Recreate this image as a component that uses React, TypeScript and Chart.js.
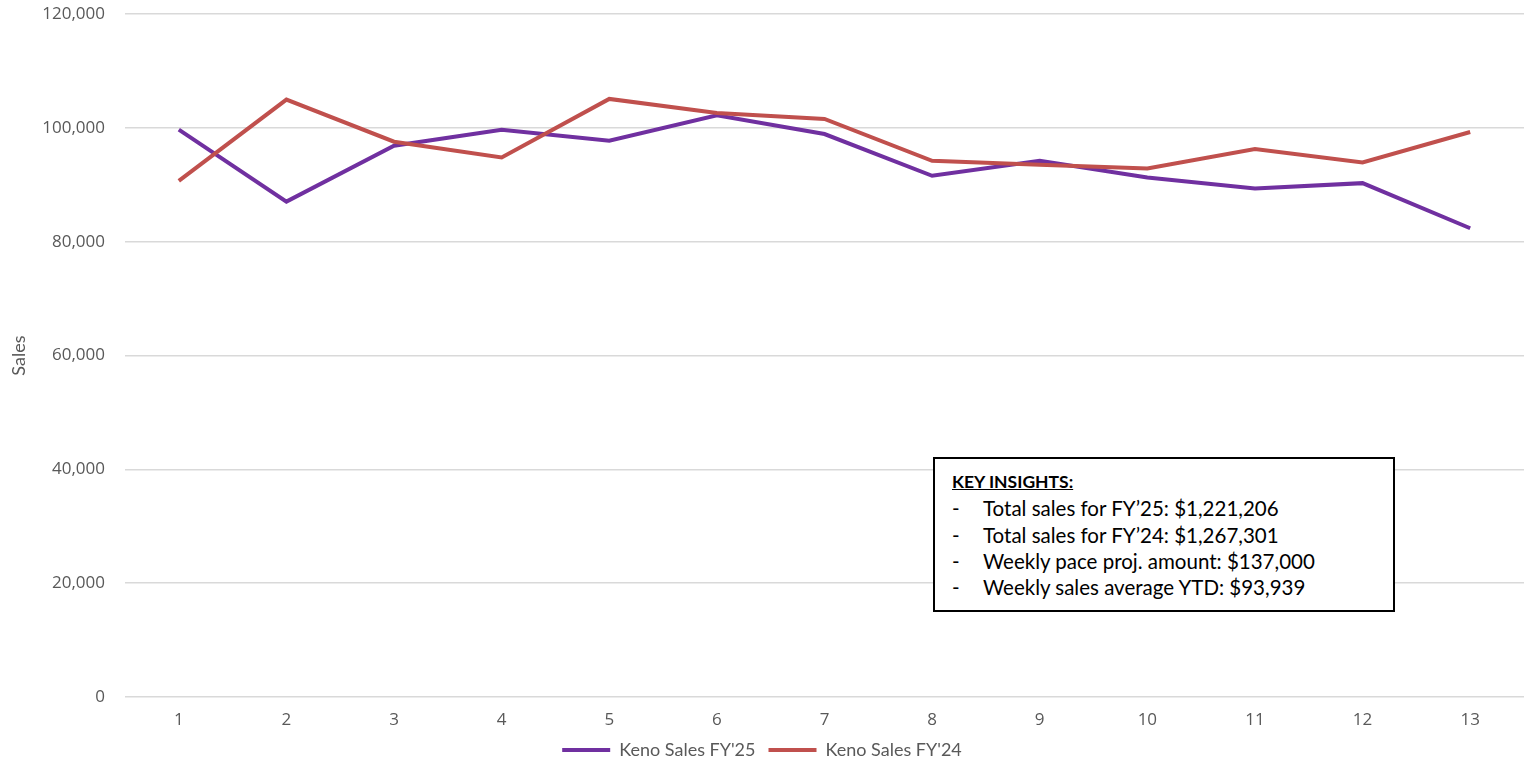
import React, { useEffect, useRef } from "react";
import { Chart, registerables } from "chart.js";

Chart.register(...registerables);

const weeks = ["1", "2", "3", "4", "5", "6", "7", "8", "9", "10", "11", "12", "13"];
const salesFY25 = [99700, 87070, 96880, 99700, 97760, 102220, 98940, 91600, 94240, 91300, 89360, 90310, 82380];
const salesFY24 = [90710, 104990, 97590, 94820, 105110, 102640, 101580, 94240, 93530, 92880, 96300, 93940, 99300];
const insightTitle = "KEY INSIGHTS:";
const insightLines = [
  "Total sales for FY\u201925: $1,221,206",
  "Total sales for FY\u201924: $1,267,301",
  "Weekly pace proj. amount: $137,000",
  "Weekly sales average YTD: $93,939",
];

export default function App() {
  const canvasRef = useRef<HTMLCanvasElement | null>(null);

  useEffect(() => {
    const canvas = canvasRef.current;
    if (!canvas) return;
    const tickFont = { family: "'Open Sans', sans-serif", size: 17 };
    const chart = new Chart(canvas, {
      type: "line",
      data: {
        labels: weeks,
        datasets: [
          {
            label: "Keno Sales FY'25",
            data: salesFY25,
            borderColor: "#7030A0",
            backgroundColor: "#7030A0",
            borderWidth: 4,
            pointRadius: 0,
            tension: 0,
            order: 1,
          },
          {
            label: "Keno Sales FY'24",
            data: salesFY24,
            borderColor: "#C0504D",
            backgroundColor: "#C0504D",
            borderWidth: 4,
            pointRadius: 0,
            tension: 0,
            order: 0,
          },
        ],
      },
      options: {
        animation: false,
        responsive: false,
        maintainAspectRatio: false,
        layout: { padding: { top: 14, right: 9, left: 0, bottom: 0 } },
        plugins: {
          tooltip: { enabled: false },
          legend: {
            position: "bottom",
            maxHeight: 35,
            labels: {
              usePointStyle: true,
              pointStyle: "line",
              pointStyleWidth: 48,
              boxHeight: 18,
              color: "#595959",
              font: { family: "Lato, sans-serif", size: 18 },
              padding: 13,
              sort: (a: any, b: any) => a.datasetIndex - b.datasetIndex,
            },
          },
        },
        scales: {
          x: {
            offset: true,
            grid: { display: false },
            border: { display: false },
            ticks: { color: "#595959", font: tickFont, padding: 5 },
            afterFit: (scale: any) => {
              scale.height = 31;
            },
          },
          y: {
            min: 0,
            max: 120000,
            grid: {
              color: "#d9d9d9",
              lineWidth: 1.5,
              drawTicks: true,
              tickLength: 16,
              tickColor: "rgba(0,0,0,0)",
            },
            border: { display: false },
            ticks: {
              stepSize: 20000,
              color: "#595959",
              font: tickFont,
              padding: 4,
              callback: (v: any) => Number(v).toLocaleString("en-US"),
            },
            title: {
              display: true,
              text: "Sales",
              color: "#595959",
              font: { family: "Lato, sans-serif", size: 18 },
              padding: { top: 8, bottom: 0 },
            },
            afterFit: (scale: any) => {
              scale.width = 125;
            },
          },
        },
      },
    });
    return () => chart.destroy();
  }, []);

  return (
    <div style={{ position: "absolute", left: 0, top: 0, width: 1533, height: 763, background: "#fff" }}>
      <canvas ref={canvasRef} width={1533} height={763} style={{ display: "block" }} />
      <div
        style={{
          position: "absolute",
          left: 933,
          top: 457,
          width: 462,
          height: 155,
          boxSizing: "border-box",
          border: "2px solid #000",
          background: "#fff",
          fontFamily: "Lato, sans-serif",
          fontSize: 20.5,
          lineHeight: "26.3px",
          color: "#000",
          padding: "10px 0 0 17px",
        }}
      >
        <div style={{ fontWeight: 700, textDecoration: "underline", fontSize: 17.5 }}>{insightTitle}</div>
        {insightLines.map((t) => (
          <div key={t} style={{ display: "flex" }}>
            <span style={{ width: 31, display: "inline-block" }}>-</span>
            <span>{t}</span>
          </div>
        ))}
      </div>
    </div>
  );
}
